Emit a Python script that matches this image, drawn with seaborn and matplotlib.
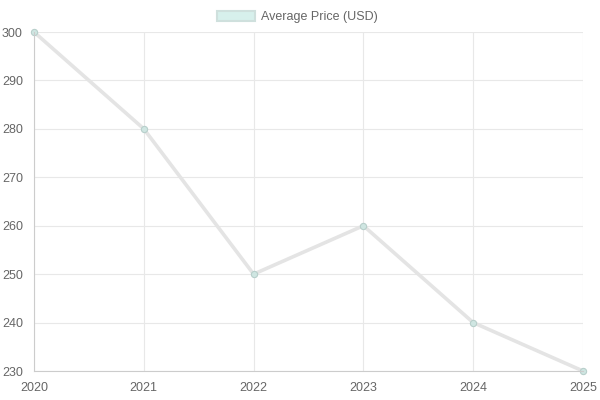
import pandas as pd
import matplotlib
matplotlib.use("Agg")
import matplotlib.pyplot as plt
import seaborn as sns

sns.set_theme(style="white")
plt.rcParams['font.family'] = ['Liberation Sans', 'DejaVu Sans']

years = ["2020", "2021", "2022", "2023", "2024", "2025"]
prices = [300, 280, 250, 260, 240, 230]
series_name = "Average Price (USD)"

df = pd.DataFrame({"Year": years, "Price": prices})
df["pos"] = range(len(years))

fig = plt.figure(figsize=(6, 4), dpi=100)
ax = fig.add_axes([34 / 600, 29 / 400, 549 / 600, 339 / 400])

sns.lineplot(x="pos", y="Price", data=df, ax=ax, color="#e4e4e4", linewidth=2.6,
             marker="o", markersize=4.5, markerfacecolor="#cfe6e2",
             markeredgecolor="#b8cfcb", markeredgewidth=0.8, label=series_name)
for ln in ax.get_lines():
    ln.set_clip_on(False)

ax.set_xlim(0, len(years) - 1)
ax.set_ylim(230, 300)
ax.set_xticks(df["pos"])
ax.set_xticklabels(years)
ax.set_yticks(range(230, 301, 10))
ax.set_xlabel("")
ax.set_ylabel("")
ax.set_axisbelow(True)
ax.grid(True, color="#e8e8e8", linewidth=0.8)
for side in ["top", "right"]:
    ax.spines[side].set_visible(False)
for side in ["left", "bottom"]:
    ax.spines[side].set_color("#cccccc")
    ax.spines[side].set_linewidth(0.8)
ax.tick_params(axis="both", colors="#666666", labelsize=9, length=6,
               width=0.8, direction="out", pad=2)
ax.tick_params(axis="both", color="#e8e8e8")

handle = plt.Rectangle((0, 0), 1, 1, facecolor="#d7f0ec", edgecolor="#cfe0dd", linewidth=1.5)
leg = ax.legend([handle], [series_name], loc="lower center", bbox_to_anchor=(0.48, 1.0),
                frameon=False, fontsize=9, handlelength=3.0, handleheight=0.9,
                handletextpad=0.5, borderaxespad=0.3)
for t in leg.get_texts():
    t.set_color("#666666")

fig.savefig("out.png", dpi=100)
